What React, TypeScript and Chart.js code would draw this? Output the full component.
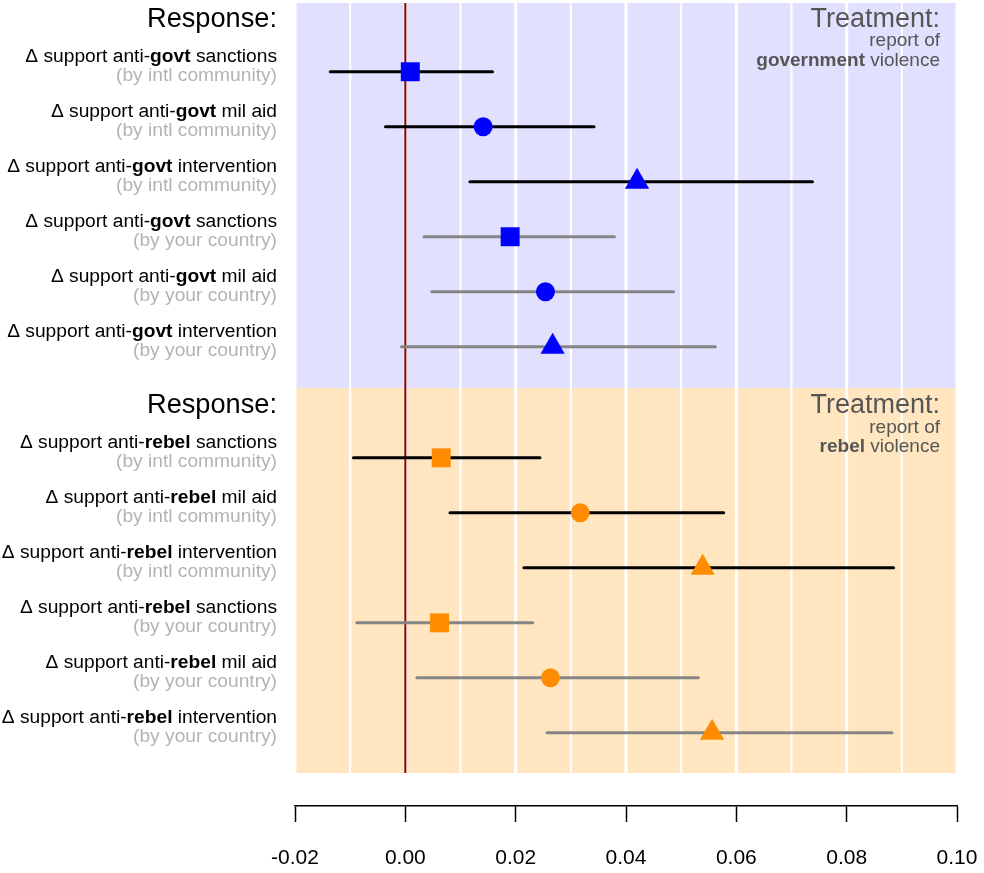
import React, { useEffect, useRef } from 'react';
import { Chart, registerables } from 'chart.js';

Chart.register(...registerables);

const FONT = "'Liberation Sans', Arial, Helvetica, sans-serif";

// ---------- data ----------
const responseTypes = ['sanctions', 'mil aid', 'intervention', 'sanctions', 'mil aid', 'intervention'];
const actorLabels = [
  '(by intl community)', '(by intl community)', '(by intl community)',
  '(by your country)', '(by your country)', '(by your country)',
];
const actorIsIntl = [true, true, true, false, false, false];
const markerShapes = ['rect', 'circle', 'triangle', 'rect', 'circle', 'triangle'];

const govtRowPos = [1.25, 2.25, 3.25, 4.25, 5.25, 6.25];
const rebelRowPos = [8.27, 9.27, 10.27, 11.27, 12.27, 13.27];

const govtEst = [0.0009, 0.0141, 0.042, 0.019, 0.0254, 0.0267];
const govtLo = [-0.0136, -0.0036, 0.0117, 0.0034, 0.0048, -0.0007];
const govtHi = [0.0158, 0.0342, 0.0738, 0.0379, 0.0486, 0.0562];

const rebelEst = [0.0065, 0.0317, 0.0539, 0.0062, 0.0263, 0.0556];
const rebelLo = [-0.0094, 0.0081, 0.0215, -0.0088, 0.0021, 0.0257];
const rebelHi = [0.0244, 0.0577, 0.0885, 0.0231, 0.0531, 0.0882];

const xTickValues = [-0.02, 0, 0.02, 0.04, 0.06, 0.08, 0.1];
const gridValues = [-0.02, -0.01, 0, 0.01, 0.02, 0.03, 0.04, 0.05, 0.06, 0.07, 0.08, 0.09, 0.1];
const panelRanges = [[0, 7], [7, 14]];
const panelHeaderPos = [0.43, 7.455];
const panelTargets = ['govt', 'rebel'];
const panelTreatments = ['government', 'rebel'];

const X_MIN = -0.02;
const X_MAX = 0.1;
const Y_MAX = 14.6;

// ---------- styles ----------
const PANEL_COLORS = ['#E1E1FF', '#FFE6C1'];
const MARKER_COLORS = ['#0000FF', '#FF8C00'];
const INTL_LINE = '#000000';
const YOUR_LINE = '#858585';
const shapeRadius: Record<string, number> = { rect: 13.4, circle: 9.5, triangle: 14 };

function drawRich(
  ctx: CanvasRenderingContext2D,
  parts: { text: string; bold?: boolean }[],
  rightX: number,
  baseline: number,
  size: number,
  color: string
) {
  const widths: number[] = [];
  let total = 0;
  parts.forEach((p) => {
    ctx.font = `${p.bold ? 'bold ' : ''}${size}px ${FONT}`;
    const w = ctx.measureText(p.text).width;
    widths.push(w);
    total += w;
  });
  let x = rightX - total;
  ctx.fillStyle = color;
  ctx.textAlign = 'left';
  ctx.textBaseline = 'alphabetic';
  parts.forEach((p, i) => {
    ctx.font = `${p.bold ? 'bold ' : ''}${size}px ${FONT}`;
    ctx.fillText(p.text, x, baseline);
    x += widths[i];
  });
}

const backdrop = {
  id: 'backdrop',
  beforeDatasetsDraw(chart: any) {
    const { ctx, scales } = chart;
    const xs = scales.x;
    const ys = scales.y;
    const left = xs.getPixelForValue(X_MIN);
    const right = xs.getPixelForValue(X_MAX);
    ctx.save();
    panelRanges.forEach(([a, b], i) => {
      const t = ys.getPixelForValue(a);
      const bt = ys.getPixelForValue(b);
      ctx.fillStyle = PANEL_COLORS[i];
      ctx.fillRect(left, t, right - left, bt - t);
    });
    const top = ys.getPixelForValue(panelRanges[0][0]);
    const bottom = ys.getPixelForValue(panelRanges[1][1]);
    ctx.strokeStyle = '#FFFFFF';
    gridValues.forEach((v) => {
      const even = Math.abs(Math.round(v * 100)) % 2 === 0;
      ctx.lineWidth = even ? 3 : 2;
      const px = xs.getPixelForValue(v);
      ctx.beginPath();
      ctx.moveTo(px, top);
      ctx.lineTo(px, bottom);
      ctx.stroke();
    });
    const zx = xs.getPixelForValue(0);
    ctx.strokeStyle = '#8B0000';
    ctx.lineWidth = 2;
    ctx.beginPath();
    ctx.moveTo(zx, top);
    ctx.lineTo(zx, bottom);
    ctx.stroke();
    ctx.restore();
  },
  afterDatasetsDraw(chart: any) {
    const { ctx, scales } = chart;
    const ys = scales.y;
    const labelRight = 277;
    const treatRight = 940;
    ctx.save();
    [govtRowPos, rebelRowPos].forEach((rows, pi) => {
      const hy = ys.getPixelForValue(panelHeaderPos[pi]);
      drawRich(ctx, [{ text: 'Response:' }], labelRight, hy, 27.2, '#000000');
      drawRich(ctx, [{ text: 'Treatment:' }], treatRight, hy, 27, '#555555');
      drawRich(ctx, [{ text: 'report of' }], treatRight, hy + 19.5, 19, '#555555');
      drawRich(
        ctx,
        [{ text: panelTreatments[pi], bold: true }, { text: ' violence' }],
        treatRight,
        hy + 39,
        19,
        '#555555'
      );
      rows.forEach((pos, i) => {
        const py = ys.getPixelForValue(pos);
        drawRich(
          ctx,
          [
            { text: '\u0394 support anti-' },
            { text: panelTargets[pi], bold: true },
            { text: ' ' + responseTypes[i] },
          ],
          labelRight,
          py - 9.5,
          19.2,
          '#000000'
        );
        drawRich(ctx, [{ text: actorLabels[i] }], labelRight, py + 9, 19.2, '#B3B3B3');
      });
    });
    ctx.restore();
  },
};

function buildDatasets() {
  const ds: any[] = [];
  const groups = [
    { pos: govtRowPos, est: govtEst, lo: govtLo, hi: govtHi },
    { pos: rebelRowPos, est: rebelEst, lo: rebelLo, hi: rebelHi },
  ];
  groups.forEach((g, gi) => {
    ds.push({
      label: gi === 0 ? 'government violence' : 'rebel violence',
      data: g.est.map((x, i) => ({ x, y: g.pos[i] })),
      pointStyle: markerShapes,
      pointRadius: markerShapes.map((s) => shapeRadius[s]),
      pointHoverRadius: markerShapes.map((s) => shapeRadius[s]),
      backgroundColor: MARKER_COLORS[gi],
      borderColor: MARKER_COLORS[gi],
      pointBorderWidth: 0,
      borderWidth: 0,
      showLine: false,
      order: 0,
    });
  });
  groups.forEach((g) => {
    g.pos.forEach((p, i) => {
      ds.push({
        data: [
          { x: g.lo[i], y: p },
          { x: g.hi[i], y: p },
        ],
        showLine: true,
        borderColor: actorIsIntl[i] ? INTL_LINE : YOUR_LINE,
        borderWidth: 3,
        borderCapStyle: 'round',
        pointRadius: 0,
        pointHoverRadius: 0,
        order: 1,
      });
    });
  });
  return ds;
}

export default function App() {
  const ref = useRef<HTMLCanvasElement | null>(null);
  useEffect(() => {
    document.body.style.margin = '0';
    if (!ref.current) return;
    const chart = new Chart(ref.current, {
      type: 'scatter',
      data: { datasets: buildDatasets() },
      options: {
        animation: false,
        responsive: false,
        devicePixelRatio: 1,
        events: [],
        layout: { autoPadding: false, padding: { left: 295, right: 27, top: 3, bottom: -21 } },
        plugins: { legend: { display: false }, tooltip: { enabled: false } },
        scales: {
          x: {
            type: 'linear',
            position: 'bottom',
            min: X_MIN,
            max: X_MAX,
            afterBuildTicks: (scale: any) => {
              scale.ticks = xTickValues.map((value) => ({ value }));
            },
            grid: {
              display: true,
              drawOnChartArea: false,
              drawTicks: true,
              tickLength: 16,
              tickColor: '#000000',
              tickWidth: 1.5,
            },
            border: { display: true, color: '#000000', width: 1.5 },
            ticks: {
              autoSkip: false,
              maxRotation: 0,
              padding: 0,
              color: '#000000',
              font: { family: FONT, size: 21, lineHeight: 72 / 21 },
              callback: (v: any) => Number(v).toFixed(2),
            },
          },
          y: {
            type: 'linear',
            display: false,
            min: 0,
            max: Y_MAX,
            reverse: true,
          },
        },
      },
      plugins: [backdrop],
    });
    return () => chart.destroy();
  }, []);
  return (
    <div style={{ width: 984, height: 873, overflow: 'hidden' }}>
      <canvas ref={ref} width={984} height={873} style={{ display: 'block' }} />
    </div>
  );
}
